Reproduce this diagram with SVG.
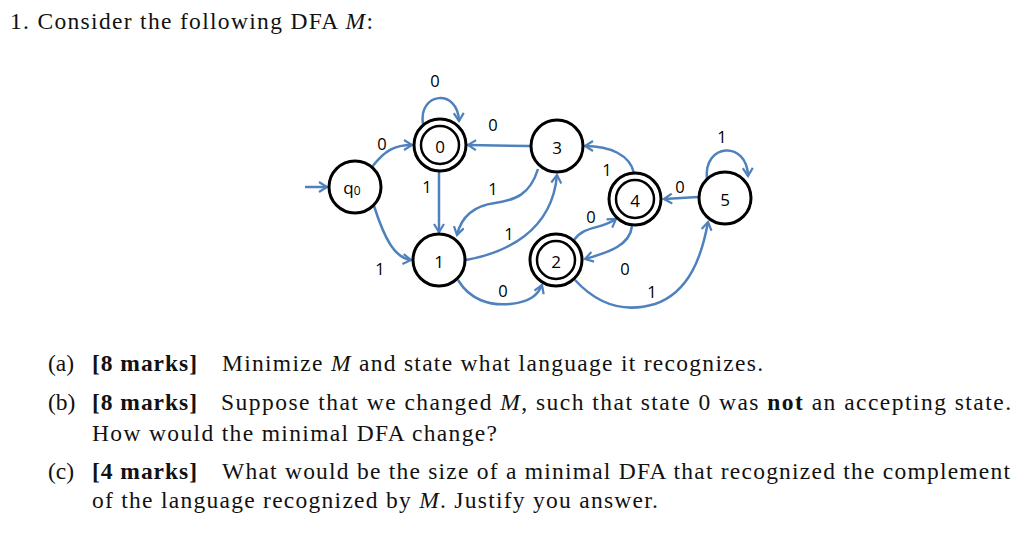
<svg xmlns="http://www.w3.org/2000/svg" width="1024" height="534" viewBox="0 0 1024 534">
<defs>
<style>
.t{font-family:"Liberation Serif","DejaVu Serif",serif;font-size:23.5px;fill:#111}
.b{font-weight:bold}
.i{font-style:italic}
.st{fill:#fff;stroke:#000;stroke-width:3}
.in{fill:none;stroke:#000;stroke-width:2.5}
.nl{font-family:"Open Sans","Liberation Sans",sans-serif;font-size:17px;fill:#000;text-anchor:middle;dominant-baseline:central}
.e{fill:none;stroke:#4f81bd;stroke-width:2.5;marker-end:url(#ah)}
.el{font-family:"Open Sans","Liberation Sans",sans-serif;font-size:16.5px;fill:#000;text-anchor:middle;dominant-baseline:central}
</style>
<marker id="ah" viewBox="0 0 12 12" refX="10" refY="6" markerWidth="12" markerHeight="12" markerUnits="userSpaceOnUse" orient="auto">
<path d="M2,1 L10,6 L2,11" fill="none" stroke="#4f81bd" stroke-width="2.2" stroke-linejoin="miter"/>
</marker>
</defs>
<rect width="1024" height="534" fill="#fff"/>
<text class="t" x="10" y="29" textLength="363" lengthAdjust="spacing">1. Consider the following DFA <tspan class="i">M</tspan>:</text>

<g id="connectors">
<path class="e" d="M305,187 L327,187"/>
<path class="e" d="M372,167 C385,150 395,145 412,145"/>
<path class="e" d="M374,206 C385,240 395,258 411,260"/>
<path class="e" d="M423,124 C418,92 458,88 459,121"/>
<path class="e" d="M530,146 L468,145"/>
<path class="e" d="M439,172 L439,232"/>
<path class="e" d="M538,169 C530,195 515,200 495,203 C472,206 461,218 457,235"/>
<path class="e" d="M466,260 C505,253 552,232 557,175"/>
<path class="e" d="M458,280 C470,300 490,306 510,304 C530,302 538,295 542,285"/>
<path class="e" d="M574,240 C585,225 600,230 616,219"/>
<path class="e" d="M632,226 C630,245 610,252 585,259"/>
<path class="e" d="M634,173 C630,155 610,146 585,146"/>
<path class="e" d="M698,197 L664,199"/>
<path class="e" d="M707,179 C703,143 747,140 748,176"/>
<path class="e" d="M575,280 C598,305 625,313 655,304 C690,292 702,255 708,222"/>
<text class="el" x="435" y="80">0</text>
<text class="el" x="382" y="143">0</text>
<text class="el" x="493" y="124">0</text>
<text class="el" x="722" y="136">1</text>
<text class="el" x="427" y="186">1</text>
<text class="el" x="493" y="188">1</text>
<text class="el" x="607" y="169">1</text>
<text class="el" x="680" y="186">0</text>
<text class="el" x="591" y="216">0</text>
<text class="el" x="509" y="233">1</text>
<text class="el" x="625" y="268">0</text>
<text class="el" x="380" y="268">1</text>
<text class="el" x="503" y="290">0</text>
<text class="el" x="652" y="291">1</text>
</g>

<g id="q0"><circle class="st" cx="355" cy="187" r="26"/><text class="nl" x="352" y="187">q<tspan font-size="12" dy="3">0</tspan></text></g>
<g id="s0"><circle class="st" cx="440" cy="145" r="26"/><circle class="in" cx="440" cy="145" r="19"/><text class="nl" x="440" y="146">0</text></g>
<g id="s1"><circle class="st" cx="439" cy="260" r="26"/><text class="nl" x="439" y="261">1</text></g>
<g id="s3"><circle class="st" cx="557" cy="146" r="26"/><text class="nl" x="557" y="147">3</text></g>
<g id="s4"><circle class="st" cx="635" cy="199" r="26"/><circle class="in" cx="635" cy="199" r="19"/><text class="nl" x="635" y="200">4</text></g>
<g id="s5"><circle class="st" cx="725" cy="198" r="26"/><text class="nl" x="725" y="199">5</text></g>
<g id="s2"><circle class="st" cx="556" cy="260" r="26"/><circle class="in" cx="556" cy="260" r="19"/><text class="nl" x="556" y="261">2</text></g>

<text class="t" x="48" y="371">(a)</text>
<text class="t b" x="92" y="371" textLength="105" lengthAdjust="spacing">[8 marks]</text>
<text class="t" x="222" y="371" textLength="541" lengthAdjust="spacing">Minimize <tspan class="i">M</tspan> and state what language it recognizes.</text>
<text class="t" x="48" y="410">(b)</text>
<text class="t b" x="92" y="410" textLength="105" lengthAdjust="spacing">[8 marks]</text>
<text class="t" x="221" y="410" textLength="790" lengthAdjust="spacing">Suppose that we changed <tspan class="i">M</tspan>, such that state 0 was <tspan class="b">not</tspan> an accepting state.</text>
<text class="t" x="92" y="441" textLength="405" lengthAdjust="spacing">How would the minimal DFA change?</text>
<text class="t" x="48" y="479">(c)</text>
<text class="t b" x="92" y="479" textLength="105" lengthAdjust="spacing">[4 marks]</text>
<text class="t" x="222" y="479" textLength="788" lengthAdjust="spacing">What would be the size of a minimal DFA that recognized the complement</text>
<text class="t" x="92" y="508" textLength="566" lengthAdjust="spacing">of the language recognized by <tspan class="i">M</tspan>. Justify you answer.</text>
</svg>
